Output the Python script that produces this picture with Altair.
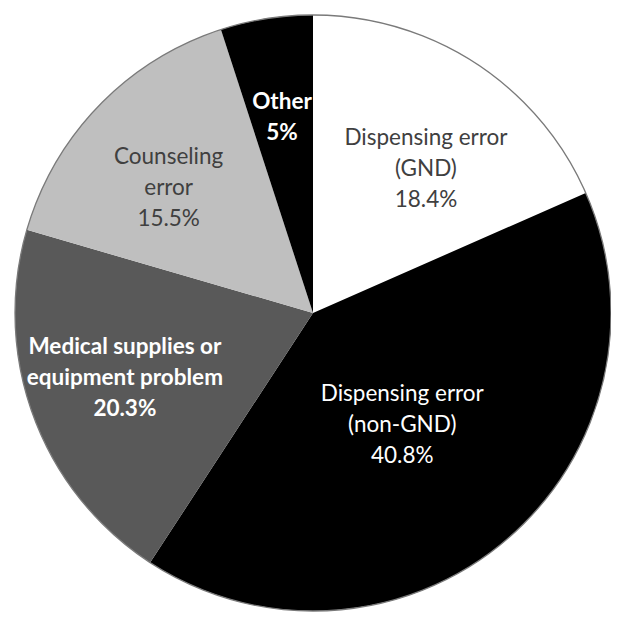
import altair as alt
import pandas as pd

categories = [
    "Dispensing error (GND)",
    "Dispensing error (non-GND)",
    "Medical supplies or equipment problem",
    "Counseling error",
    "Other",
]
values = [18.4, 40.8, 20.3, 15.5, 5.0]
label_lines = [
    "Dispensing error\n(GND)\n18.4%",
    "Dispensing error\n(non-GND)\n40.8%",
    "Medical supplies or\nequipment problem\n20.3%",
    "Counseling\nerror\n15.5%",
    "Other\n5%",
]
slice_colors = ["#ffffff", "#000000", "#595959", "#bfbfbf", "#000000"]

# label styling: radius (px), angular shift (deg), weight, colour
label_style = {
    "Dispensing error (GND)": (183, 5.0, "normal", "#404040"),
    "Dispensing error (non-GND)": (143, 1.7, "normal", "#ffffff"),
    "Medical supplies or equipment problem": (199, 1.3, "bold", "#ffffff"),
    "Counseling error": (191, -3.2, "normal", "#404040"),
    "Other": (198, 0.0, "bold", "#ffffff"),
}

df = pd.DataFrame({
    "category": categories,
    "value": values,
    "label": label_lines,
    "order": list(range(len(categories))),
})

CX, CY, R = 305, 305, 298
FONT = "Lato"
LH = 31

base = alt.Chart(df)

pie = base.mark_arc(outerRadius=R, stroke=None).encode(
    x=alt.value(CX),
    y=alt.value(CY),
    theta=alt.Theta("value:Q", stack=True),
    color=alt.Color("category:N",
                    scale=alt.Scale(domain=categories, range=slice_colors),
                    legend=None),
    order=alt.Order("order:Q"),
)

outline = base.transform_filter("datum.order == 0").mark_arc(
    outerRadius=R, theta=0, theta2=6.28319, fillOpacity=0,
    stroke="#7a7a7a", strokeWidth=1.3,
).encode(x=alt.value(CX), y=alt.value(CY))

layers = [pie, outline]
for cat, lab in zip(categories, label_lines):
    r, shift, weight, col = label_style[cat]
    n = lab.count("\n") + 1
    t = base.transform_window(
        cum="sum(value)", sort=[alt.SortField("order")]
    ).transform_calculate(
        tmid=f"(datum.cum - datum.value/2)/100*2*PI + {shift}*PI/180"
    ).transform_filter(
        alt.datum.category == cat
    ).mark_text(
        radius=r, font=FONT, fontSize=22.5, fontWeight=weight, color=col,
        lineBreak="\n", lineHeight=LH, align="center", baseline="middle",
        dy=-(n - 1) * LH / 2,
    ).encode(
        x=alt.value(CX),
        y=alt.value(CY),
        theta=alt.Theta("tmid:Q", scale=None),
        text="label:N",
    )
    layers.append(t)

chart = alt.layer(*layers).properties(
    width=603, height=605, padding=0, autosize=alt.AutoSizeParams(type="none"),
    background="white",
).configure_view(stroke=None)

chart.save("out.html", embed_options={"renderer": "svg", "actions": False})
